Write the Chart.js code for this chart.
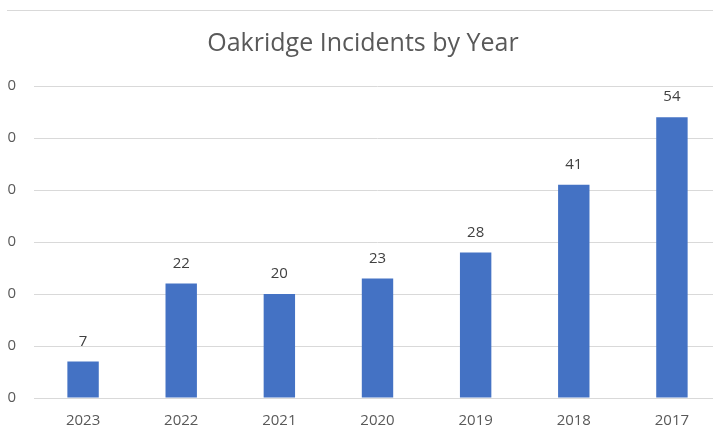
<!DOCTYPE html>
<html>
<head>
<meta charset="utf-8">
<script src="https://cdn.jsdelivr.net/npm/chart.js@4"></script>
<style>
  html, body { margin: 0; padding: 0; background: #fff; overflow: hidden; }
  body { width: 713px; height: 439px; position: relative; }
  #clip { position: absolute; left: 7px; top: 0; width: 706px; height: 439px; overflow: hidden; }
  #topline { position: absolute; left: 0; top: 10px; width: 706px; height: 1px; background: #d9d9d9; z-index: 2; }
  #wrap { position: absolute; left: -27px; top: 0; width: 741px; height: 439px; }
</style>
</head>
<body>
<div id="clip">
  <div id="topline"></div>
  <div id="wrap"><canvas id="c"></canvas></div>
</div>
<script>
const chartTitle = "Oakridge Incidents by Year";
const years = ["2023", "2022", "2021", "2020", "2019", "2018", "2017"];
const incidents = [7, 22, 20, 23, 28, 41, 54];
const yMin = 0, yMax = 60, yStep = 10;

const FONT = "'Open Sans', 'DejaVu Sans', sans-serif";

const valueLabels = {
  id: 'valueLabels',
  afterDatasetsDraw(chart) {
    const ctx = chart.ctx;
    const meta = chart.getDatasetMeta(0);
    ctx.save();
    ctx.font = "15px " + FONT;
    ctx.fillStyle = "#404040";
    ctx.textAlign = "center";
    ctx.textBaseline = "middle";
    meta.data.forEach((bar, i) => {
      ctx.fillText(String(chart.data.datasets[0].data[i]), bar.x, bar.y - 20);
    });
    ctx.restore();
  }
};

new Chart(document.getElementById('c'), {
  type: 'bar',
  data: {
    labels: years,
    datasets: [{
      data: incidents,
      backgroundColor: '#4472C4',
      borderWidth: 0,
      categoryPercentage: 1.0,
      barPercentage: 0.32
    }]
  },
  options: {
    responsive: true,
    maintainAspectRatio: false,
    animation: false,
    layout: { padding: { left: 25, right: 0, top: 0, bottom: 0 } },
    plugins: {
      legend: { display: false },
      tooltip: { enabled: false },
      title: {
        display: true,
        text: chartTitle,
        color: '#595959',
        font: { family: FONT, size: 25, weight: 'normal' },
        padding: { top: 29, bottom: 27 }
      }
    },
    scales: {
      x: {
        grid: { display: false, drawTicks: false },
        border: { display: true, color: '#d9d9d9', width: 1 },
        ticks: { color: '#595959', font: { family: FONT, size: 15 }, padding: 14, maxRotation: 0 },
        afterFit(scale) { scale.height = 41; }
      },
      y: {
        min: yMin, max: yMax,
        grid: { color: '#d9d9d9', lineWidth: 1, drawTicks: false },
        border: { display: false },
        ticks: { stepSize: yStep, color: '#595959', font: { family: FONT, size: 15 }, padding: 18 },
        afterFit(scale) { scale.width = 29; }
      }
    }
  },
  plugins: [valueLabels]
});
</script>
</body>
</html>
